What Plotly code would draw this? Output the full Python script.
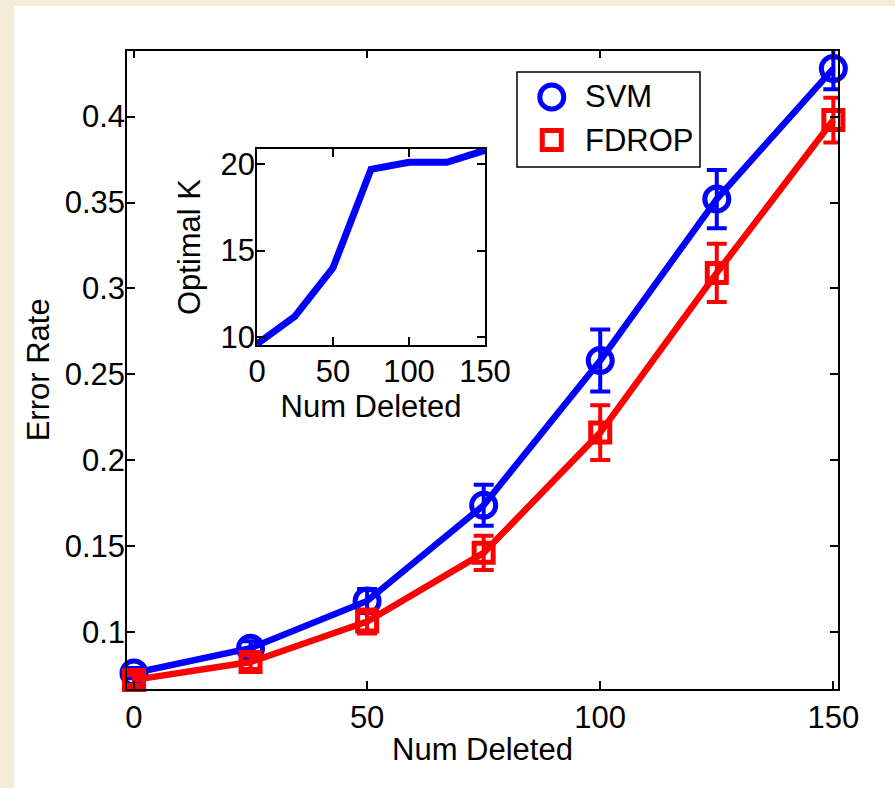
import plotly.graph_objects as go

# ---------------- data ----------------
num_deleted = [0, 25, 50, 75, 100, 125, 150]
svm_err = [0.076, 0.0905, 0.118, 0.1737, 0.258, 0.352, 0.428]
svm_sd = [0.003, 0.004, 0.007, 0.012, 0.018, 0.017, 0.012]
fdrop_err = [0.072, 0.0824, 0.106, 0.146, 0.216, 0.309, 0.398]
fdrop_sd = [0.003, 0.004, 0.007, 0.010, 0.016, 0.017, 0.013]
optimal_k = [9.6, 11.2, 14.0, 19.7, 20.1, 20.1, 20.8]

main_xticks = [0, 50, 100, 150]
main_yticks = [0.1, 0.15, 0.2, 0.25, 0.3, 0.35, 0.4]
main_yticklabels = ["0.1", "0.15", "0.2", "0.25", "0.3", "0.35", "0.4"]
inset_xticks = [0, 50, 100, 150]
inset_yticks = [10, 15, 20]
legend_names = ["SVM", "FDROP"]

W, H = 895, 788
FONT = "Liberation Sans, Arial, Helvetica, sans-serif"
TICK_SIZE = 31
LABEL_SIZE = 31
BLUE = "#0000FF"
RED = "#FF0000"

def px(x):
    return x / W

def py(y):
    return 1 - y / H

fig = go.Figure()

fig.add_trace(go.Scatter(
    x=num_deleted, y=svm_err, mode="lines+markers", name=legend_names[0],
    line=dict(color=BLUE, width=6.5),
    marker=dict(symbol="circle-open", size=24, color=BLUE, line=dict(width=5, color=BLUE)),
    error_y=dict(type="data", array=svm_sd, visible=True, color=BLUE, thickness=4, width=10),
    xaxis="x", yaxis="y", showlegend=False, cliponaxis=False,
))
fig.add_trace(go.Scatter(
    x=num_deleted, y=fdrop_err, mode="lines+markers", name=legend_names[1],
    line=dict(color=RED, width=6.5),
    marker=dict(symbol="square-open", size=19, color=RED, line=dict(width=5, color=RED)),
    error_y=dict(type="data", array=fdrop_sd, visible=True, color=RED, thickness=4, width=10),
    xaxis="x", yaxis="y", showlegend=False, cliponaxis=False,
))

# inset
fig.add_trace(go.Scatter(
    x=num_deleted, y=optimal_k, mode="lines",
    line=dict(color=BLUE, width=7),
    xaxis="x2", yaxis="y2", showlegend=False, cliponaxis=False,
))

# custom legend glyphs on a small overlay axis
fig.add_trace(go.Scatter(
    x=[0.19], y=[0.737], mode="markers",
    marker=dict(symbol="circle-open", size=24, color=BLUE, line=dict(width=5, color=BLUE)),
    xaxis="x3", yaxis="y3", showlegend=False, hoverinfo="skip",
))
fig.add_trace(go.Scatter(
    x=[0.19], y=[0.284], mode="markers",
    marker=dict(symbol="square-open", size=19, color=RED, line=dict(width=5, color=RED)),
    xaxis="x3", yaxis="y3", showlegend=False, hoverinfo="skip",
))

axis_common = dict(
    showline=True, linecolor="black", linewidth=1.5, mirror="ticks",
    ticks="inside", ticklen=8, tickwidth=1.5, tickcolor="black",
    showgrid=False, zeroline=False, automargin=False,
    tickfont=dict(family=FONT, size=TICK_SIZE, color="black"),
)

fig.update_layout(
    width=W, height=H,
    autosize=False,
    margin=dict(l=0, r=0, t=0, b=0, pad=0),
    paper_bgcolor="#F4EBD8",
    plot_bgcolor="white",
    font=dict(family=FONT, size=LABEL_SIZE, color="black"),
    xaxis=dict(
        domain=[px(127), px(838)], range=[-1.5, 151],
        tickvals=main_xticks, anchor="y",
        title=dict(text="Num Deleted", font=dict(family=FONT, size=LABEL_SIZE), standoff=4),
        ticklabelstandoff=0,
        **axis_common,
    ),
    yaxis=dict(
        domain=[py(689), py(50.7)], range=[0.0667, 0.4384],
        tickvals=main_yticks, ticktext=main_yticklabels, anchor="x",
        title=dict(text="Error Rate", font=dict(family=FONT, size=LABEL_SIZE), standoff=6),
        ticklabelstandoff=-6,
        **axis_common,
    ),
    xaxis2=dict(
        domain=[px(257), px(485)], range=[0, 150],
        tickvals=inset_xticks, anchor="y2",
        title=dict(text="Num Deleted", font=dict(family=FONT, size=LABEL_SIZE), standoff=0),
        ticklabelstandoff=-2,
        **axis_common,
    ),
    yaxis2=dict(
        domain=[py(345), py(149)], range=[9.54, 20.87],
        tickvals=inset_yticks, anchor="x2",
        title=dict(text="Optimal K", font=dict(family=FONT, size=LABEL_SIZE), standoff=11),
        ticklabelstandoff=-6,
        **axis_common,
    ),
    xaxis3=dict(domain=[px(517), px(700)], range=[0, 1], visible=False, anchor="y3",
                fixedrange=True, automargin=False),
    yaxis3=dict(domain=[py(167), py(72)], range=[0, 1], visible=False, anchor="x3",
                fixedrange=True, automargin=False),
    shapes=[
        dict(type="rect", xref="paper", yref="paper", x0=px(14), x1=1, y0=0, y1=py(6),
             fillcolor="white", line=dict(width=0), layer="below"),
        dict(type="rect", xref="paper", yref="paper", x0=px(517), x1=px(700), y0=py(167), y1=py(72),
             fillcolor="rgba(0,0,0,0)", line=dict(color="black", width=1.5), layer="above"),
    ],
    annotations=[
        dict(text=legend_names[0], xref="x3", yref="y3", x=0.36, y=0.737, xanchor="left", yanchor="middle",
             showarrow=False, font=dict(family=FONT, size=LABEL_SIZE, color="black")),
        dict(text=legend_names[1], xref="x3", yref="y3", x=0.36, y=0.284, xanchor="left", yanchor="middle",
             showarrow=False, font=dict(family=FONT, size=LABEL_SIZE, color="black")),
    ],
)

fig.write_html(
    "out.html",
    config={"displayModeBar": False},
    post_script="document.body.style.margin='0';document.body.style.overflow='hidden';",
)
